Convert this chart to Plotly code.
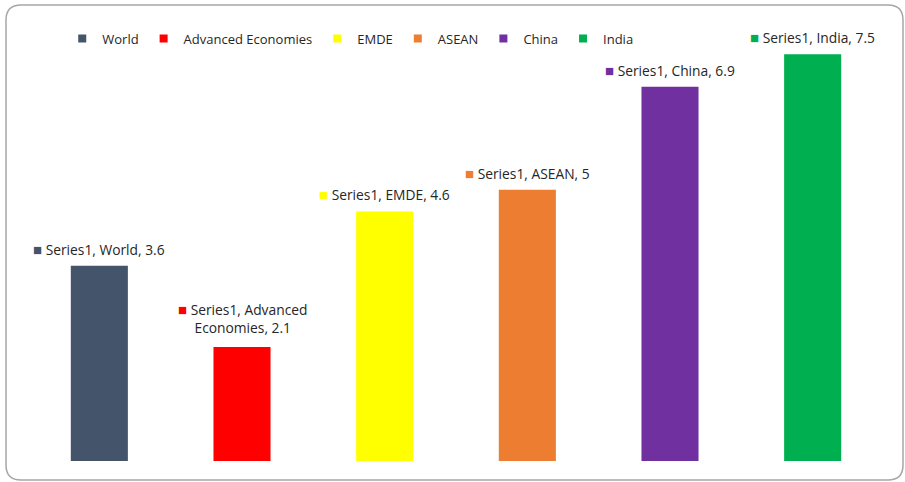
import plotly.graph_objects as go

# Growth by economy group
categories = ["World", "Advanced Economies", "EMDE", "ASEAN", "China", "India"]
values = [3.6, 2.1, 4.6, 5, 6.9, 7.5]
series_name = "Series1"
colors = ["#44546A", "#FF0000", "#FFFF00", "#ED7D31", "#7030A0", "#00B050"]
# label line breaks (the long category wraps onto a second line)
label_texts = [
    "Series1, World, 3.6",
    "Series1, Advanced<br>Economies, 2.1",
    "Series1, EMDE, 4.6",
    "Series1, ASEAN, 5",
    "Series1, China, 6.9",
    "Series1, India, 7.5",
]

FONT = "Open Sans"
TEXT_COLOR = "#262626"

fig = go.Figure()

for cat, val, col in zip(categories, values, colors):
    fig.add_trace(go.Bar(
        x=[cat], y=[val], name=cat, marker=dict(color=col, line=dict(width=0)),
        width=0.4, showlegend=False, hoverinfo="skip",
    ))

# legend entries with small square keys
for cat, col in zip(categories, colors):
    fig.add_trace(go.Scatter(
        x=[None], y=[None], mode="markers", name=cat,
        marker=dict(symbol="square", size=8, color=col),
    ))

annotations = []
for cat, val, col, txt in zip(categories, values, colors, label_texts):
    nlines = txt.count("<br>") + 1
    annotations.append(dict(
        x=cat, y=val, xref="x", yref="y",
        text=f"<span style='color:{col};font-size:15px'>■</span> {txt}",
        showarrow=False, xanchor="center", yanchor="bottom",
        yshift=5 if nlines == 1 else 8, align="center",
        font=dict(family=FONT, size=13.8, color=TEXT_COLOR),
    ))

# rounded outer frame (plot-area paper coordinates)
x0, x1, y0, y1 = -0.0257, 1.0222, -0.0438, 1.0507
rx, ry = 0.0175, 0.0346
frame = (f"M {x0+rx},{y1} L {x1-rx},{y1} Q {x1},{y1} {x1},{y1-ry} "
         f"L {x1},{y0+ry} Q {x1},{y0} {x1-rx},{y0} "
         f"L {x0+rx},{y0} Q {x0},{y0} {x0},{y0+ry} "
         f"L {x0},{y1-ry} Q {x0},{y1} {x0+rx},{y1} Z")

fig.update_layout(
    width=905, height=482,
    margin=dict(l=28, r=21, t=27, b=21),
    paper_bgcolor="white", plot_bgcolor="white",
    barmode="overlay",
    font=dict(family=FONT, size=13, color=TEXT_COLOR),
    xaxis=dict(visible=False, categoryorder="array", categoryarray=categories),
    yaxis=dict(visible=False, range=[0, 8]),
    legend=dict(orientation="h", x=0.04, y=1.008, xanchor="left", yanchor="top",
                font=dict(family=FONT, size=13, color=TEXT_COLOR),
                itemwidth=30, bgcolor="rgba(0,0,0,0)", tracegroupgap=0),
    annotations=annotations,
    shapes=[dict(type="path", path=frame, xref="paper", yref="paper",
                 line=dict(color="#A6A6A6", width=1.5), layer="below")],
)

fig.write_html("out.html")
